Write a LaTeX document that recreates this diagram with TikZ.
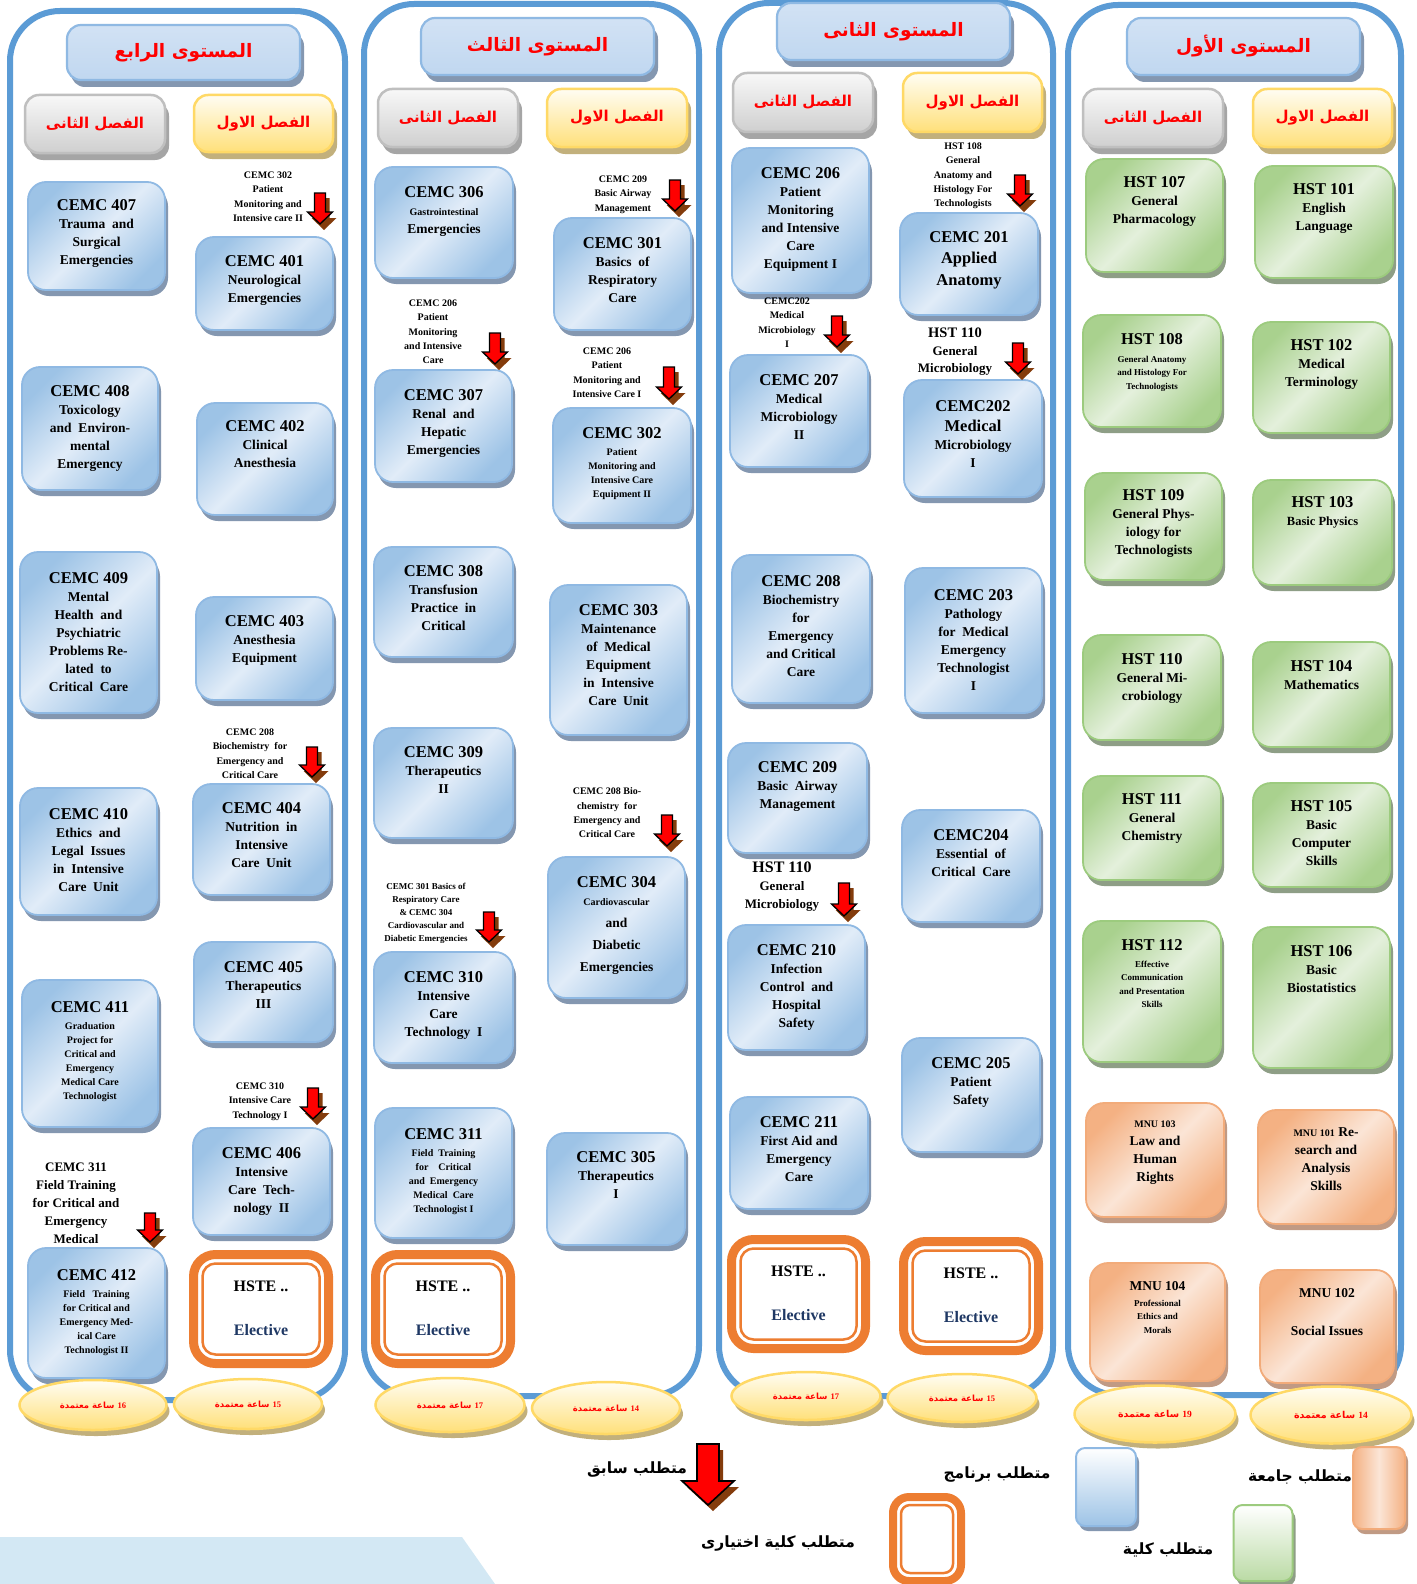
\documentclass[tikz,border=0pt]{standalone}
\usepackage{fontspec}
\setmainfont{Liberation Serif}
\newfontfamily\arabicfont[Script=Arabic]{DejaVu Sans}
\TeXXeTstate=1
\usetikzlibrary{shapes.geometric}

\definecolor{panelblue}{HTML}{5B9BD5}
\definecolor{bdark}{HTML}{9DC3E6}
\definecolor{blight}{HTML}{E1ECF8}
\definecolor{bline}{HTML}{8FB9E3}
\definecolor{bshad}{HTML}{8497B0}
\definecolor{gdark}{HTML}{A9D18E}
\definecolor{glight}{HTML}{E4F0DC}
\definecolor{gline}{HTML}{9CCB7E}
\definecolor{gshad}{HTML}{8E9E86}
\definecolor{pdark}{HTML}{F4B183}
\definecolor{plight}{HTML}{FBE5D6}
\definecolor{pline}{HTML}{F2AB7A}
\definecolor{pshad}{HTML}{C09A84}
\definecolor{orng}{HTML}{ED7D31}
\definecolor{navy}{HTML}{1F3864}
\definecolor{ylw}{HTML}{FFD966}
\definecolor{ylwtop}{HTML}{FFFDF3}
\definecolor{ylwbot}{HTML}{FFE07A}
\definecolor{yshad}{HTML}{C2B07C}
\definecolor{gry}{HTML}{BFBFBF}
\definecolor{grytop}{HTML}{F8F8F8}
\definecolor{grybot}{HTML}{CFCFCF}
\definecolor{gshadb}{HTML}{A5A5A5}
\definecolor{hdtop}{HTML}{D2E2F4}
\definecolor{hdbot}{HTML}{C0D7F0}
\definecolor{hred}{HTML}{FF0000}
\definecolor{abrown}{HTML}{843C0C}
\definecolor{wmark}{HTML}{D3E8F4}

\newcommand\arf{\arabicfont\bfseries}
\newcommand\kd[1]{{\fontsize{16.5}{19}\selectfont #1}}

\tikzset{
  bx/.style={rounded corners=18pt, inner sep=0pt, outer sep=0pt, line width=1.8pt},
  bluebox/.style={bx, draw=bline, left color=bdark, right color=bdark, middle color=blight, shading angle=45},
  blueshadow/.style={bx, fill=bshad, draw=none},
  greenbox/.style={bx, draw=gline, left color=gdark, right color=gdark, middle color=glight, shading angle=45},
  greenshadow/.style={bx, fill=gshad, draw=none},
  peachbox/.style={bx, draw=pline, left color=pdark, right color=pdark, middle color=plight, shading angle=45},
  peachshadow/.style={bx, fill=pshad, draw=none},
  hdrbox/.style={bx, rounded corners=14pt, draw=bline, line width=2.2pt, top color=hdtop, bottom color=hdbot},
  hdrshadow/.style={bx, rounded corners=14pt, fill=bshad},
  ylwbox/.style={bx, rounded corners=14pt, draw=ylw, line width=2.5pt, top color=ylwtop, bottom color=ylwbot},
  ylwshadow/.style={bx, rounded corners=14pt, fill=yshad},
  grybox/.style={bx, rounded corners=14pt, draw=gry, line width=2.5pt, top color=grytop, bottom color=grybot},
  gryshadow/.style={bx, rounded corners=14pt, fill=gshadb},
  panel/.style={draw=panelblue, line width=6pt, rounded corners=50pt, fill=white, inner sep=0pt},
  ctext/.style={inner sep=0pt, outer sep=0pt, align=center, text=black},
  tA/.style={ctext, font=\bfseries\fontsize{13.5}{18}\selectfont},
  tS/.style={ctext, font=\bfseries\fontsize{10}{14}\selectfont},
  tX/.style={ctext, font=\bfseries\fontsize{9}{13.5}\selectfont},
  pre/.style={ctext, anchor=north, font=\bfseries\fontsize{10}{14.3}\selectfont},
  preB/.style={ctext, anchor=north, font=\bfseries\fontsize{13}{18}\selectfont},
  ovbox/.style={ellipse, draw=ylw, line width=2.5pt, top color=ylwtop, bottom color=ylwbot, text=hred, inner sep=0pt},
  ovshadow/.style={ellipse, fill=yshad, inner sep=0pt},
  elecout/.style={rounded corners=22pt, draw=orng, line width=9pt, fill=white, inner sep=0pt},
  elecin/.style={rounded corners=13pt, draw=orng, line width=2.5pt, inner sep=0pt},
  etext/.style={inner sep=0pt, font=\bfseries\fontsize{16}{19}\selectfont},
  arrowred/.style={fill=red, draw=black, line width=1.3pt, line join=miter},
  legtext/.style={inner sep=0pt, font=\fontsize{15.5}{18}\selectfont\arf, text=black},
}

\newcommand\crs[9]{%
  \pgfmathsetmacro\cw{#5-#3}\pgfmathsetmacro\ch{#6-#4}%
  \pgfmathsetmacro\cx{(#3+#5)/2}\pgfmathsetmacro\cy{(#4+#6)/2}%
  \node[#2shadow, minimum width=\cw pt, minimum height=\ch pt] (#1s) at (\cx+3,\cy+6) {};%
  \node[#2box, minimum width=\cw pt, minimum height=\ch pt] (#1) at (\cx,\cy) {};%
  \node[#8, anchor=north] (#1t) at (\cx,#7) {#9};%
}
\newcommand\hdr[8]{%
  \pgfmathsetmacro\cw{#5-#3}\pgfmathsetmacro\ch{#6-#4}%
  \pgfmathsetmacro\cx{(#3+#5)/2}\pgfmathsetmacro\cy{(#4+#6)/2}%
  \node[#2shadow, minimum width=\cw pt, minimum height=\ch pt] (#1s) at (\cx+4,\cy+7) {};%
  \node[#2box, minimum width=\cw pt, minimum height=\ch pt, text=hred, font=\fontsize{#7}{#7}\selectfont\arf] (#1) at (\cx,\cy) {#8};%
}
\newcommand\credit[7]{%
  \node[ovshadow, minimum width=#4pt, minimum height=#5pt] (#1s) at (#2+3,#3+6) {};%
  \node[ovbox, minimum width=#4pt, minimum height=#5pt, font=\fontsize{#6}{#6}\selectfont\arf] (#1) at (#2,#3) {\beginR\beginL{\rmfamily\bfseries #7}\endL\ ساعة معتمدة\endR};%
}
\newcommand\elec[5]{%
  \pgfmathsetmacro\cw{#4-#2-9}\pgfmathsetmacro\ch{#5-#3-9}%
  \pgfmathsetmacro\iw{#4-#2-27}\pgfmathsetmacro\ih{#5-#3-27}%
  \pgfmathsetmacro\cx{(#2+#4)/2}\pgfmathsetmacro\cy{(#3+#5)/2}%
  \pgfmathsetmacro\ya{#3+0.31*(#5-#3)}\pgfmathsetmacro\yb{#3+0.68*(#5-#3)}%
  \node[elecout, minimum width=\cw pt, minimum height=\ch pt] (#1) at (\cx,\cy) {};%
  \node[elecin, minimum width=\iw pt, minimum height=\ih pt] (#1i) at (\cx,\cy) {};%
  \node[etext] (#1a) at (\cx,\ya) {HSTE ..};%
  \node[etext, text=navy] (#1b) at (\cx,\yb) {Elective};%
}
\newcommand\rarr[3]{%
  \pgfmathsetmacro\ax{#1}\pgfmathsetmacro\at{#2}\pgfmathsetmacro\ab{#3-6}\pgfmathsetmacro\ah{#3-18}%
  \fill[abrown] (\ax-1.5,\at+5) -- (\ax+9.5,\at+5) -- (\ax+9.5,\ah+6) -- (\ax+16.5,\ah+6) -- (\ax+4,\ab+6) -- (\ax-8.5,\ah+6) -- (\ax-1.5,\ah+6) -- cycle;%
  \filldraw[arrowred] (\ax-5.5,\at) -- (\ax+5.5,\at) -- (\ax+5.5,\ah) -- (\ax+12.5,\ah) -- (\ax,\ab) -- (\ax-12.5,\ah) -- (\ax-5.5,\ah) -- cycle;%
}

\begin{document}
\begin{tikzpicture}[x=1pt,y=-1pt]
\useasboundingbox (0,0) rectangle (1416,1584);
\fill[white] (0,0) rectangle (1416,1584);
\fill[wmark] (0,1537) -- (462,1537) -- (495,1584) -- (0,1584) -- cycle;

% panels
\node[panel, minimum width=335pt, minimum height=1389pt] (pan4) at (177.5,705.5) {};
\node[panel, minimum width=335pt, minimum height=1392pt] (pan3) at (531.5,700) {};
\node[panel, minimum width=334pt, minimum height=1393pt] (pan2) at (886,699.5) {};
\node[panel, minimum width=333pt, minimum height=1390pt] (pan1) at (1234.5,700) {};

% level headers
\hdr{lv4}{hdr}{67}{25}{300}{80}{18.5}{\beginR المستوى الرابع\endR}
\hdr{lv3}{hdr}{421}{18}{654}{75}{18.5}{\beginR المستوى الثالث\endR}
\hdr{lv2}{hdr}{777}{3}{1010}{60}{18.5}{\beginR المستوى الثانى\endR}
\hdr{lv1}{hdr}{1127}{18}{1360}{75}{18.5}{\beginR المستوى الأول\endR}

% semester headers
\hdr{s4b}{gry}{25}{95}{165}{153}{15}{\beginR الفصل الثانى\endR}
\hdr{s4a}{ylw}{194}{95}{333}{152}{15}{\beginR الفصل الاول\endR}
\hdr{s3b}{gry}{378}{89}{518}{147}{15}{\beginR الفصل الثانى\endR}
\hdr{s3a}{ylw}{547}{89}{687}{147}{15}{\beginR الفصل الاول\endR}
\hdr{s2b}{gry}{733}{73}{873}{132}{15}{\beginR الفصل الثانى\endR}
\hdr{s2a}{ylw}{903}{73}{1042}{132}{15}{\beginR الفصل الاول\endR}
\hdr{s1b}{gry}{1083}{89}{1223}{147}{15}{\beginR الفصل الثانى\endR}
\hdr{s1a}{ylw}{1253}{89}{1392}{147}{15}{\beginR الفصل الاول\endR}

% ---- Level 4
\crs{c407}{blue}{28}{182}{165}{290}{200}{tA}{\kd{CEMC 407}\\Trauma\ \ and\\Surgical\\Emergencies}
\crs{c401}{blue}{196}{237}{333}{330}{256}{tA}{\kd{CEMC 401}\\Neurological\\Emergencies}
\crs{c408}{blue}{22}{367}{158}{490}{386}{tA}{\kd{CEMC 408}\\Toxicology\\and\ \ Environ-\\mental\\Emergency}
\crs{c402}{blue}{197}{403}{333}{515}{421}{tA}{\kd{CEMC 402}\\Clinical\\Anesthesia}
\crs{c409}{blue}{20}{552}{157}{713}{573}{tA}{\kd{CEMC 409}\\Mental\\Health\ \ and\\Psychiatric\\Problems Re-\\lated\ \ to\\Critical\ \ Care}
\crs{c403}{blue}{196}{597}{333}{700}{616}{tA}{\kd{CEMC 403}\\Anesthesia\\Equipment}
\crs{c404}{blue}{193}{784}{330}{895}{803}{tA}{\kd{CEMC 404}\\Nutrition\ \ in\\Intensive\\Care\ \ Unit}
\crs{c410}{blue}{20}{788}{157}{915}{809}{tA}{\kd{CEMC 410}\\Ethics\ \ and\\Legal\ \ Issues\\in\ \ Intensive\\Care\ \ Unit}
\crs{c405}{blue}{194}{942}{333}{1042}{962}{tA}{\kd{CEMC 405}\\Therapeutics\\III}
\crs{c411}{blue}{22}{980}{158}{1127}{1002}{tS}{\kd{CEMC 411}\\[3pt]Graduation\\Project for\\Critical and\\Emergency\\Medical Care\\Technologist}
\crs{c406}{blue}{193}{1128}{330}{1235}{1148}{tA}{\kd{CEMC 406}\\Intensive\\Care\ \ Tech-\\nology\ \ II}
\crs{c412}{blue}{28}{1248}{165}{1378}{1270}{tS}{\kd{CEMC 412}\\[3pt]Field\ \ \ Training\\for Critical and\\Emergency Med-\\ical Care\\Technologist II}
\elec{e4}{189}{1250}{333}{1368}

\node[pre] (p401) at (268,172) {CEMC 302\\Patient\\Monitoring and\\Intensive care II};
\node[pre] (p404) at (250,729) {CEMC 208\\Biochemistry\ \ for\\Emergency and\\Critical Care};
\node[pre] (p406) at (260,1083) {CEMC 310\\Intensive Care\\Technology I};
\node[preB] (p412) at (76,1163) {CEMC 311\\Field Training\\for Critical and\\Emergency\\Medical};
\rarr{320}{193}{230}
\rarr{312}{747}{783}
\rarr{313}{1088}{1125}
\rarr{150}{1213}{1248}

% ---- Level 3
\crs{c306}{blue}{375}{167}{513}{278}{187}{tA}{\kd{CEMC 306}\\{\fontsize{10}{12}\selectfont Gastrointestinal}\\Emergencies}
\crs{c301}{blue}{554}{218}{691}{330}{238}{tA}{\kd{CEMC 301}\\Basics\ \ of\\Respiratory\\Care}
\crs{c307}{blue}{375}{370}{512}{482}{390}{tA}{\kd{CEMC 307}\\Renal\ \ and\\Hepatic\\Emergencies}
\crs{c302}{blue}{553}{408}{691}{523}{428}{tS}{\kd{CEMC 302}\\[3pt]Patient\\Monitoring and\\Intensive Care\\Equipment II}
\crs{c308}{blue}{374}{547}{513}{657}{566}{tA}{\kd{CEMC 308}\\Transfusion\\Practice\ \ in\\Critical}
\crs{c303}{blue}{550}{585}{687}{735}{605}{tA}{\kd{CEMC 303}\\Maintenance\\of\ \ Medical\\Equipment\\in\ \ Intensive\\Care\ \ Unit}
\crs{c309}{blue}{374}{728}{513}{838}{747}{tA}{\kd{CEMC 309}\\Therapeutics\\II}
\crs{c304}{blue}{548}{857}{685}{998}{877}{tA}{\kd{CEMC 304}\\{\fontsize{10}{12}\selectfont Cardiovascular}\\[4pt]and\\[4pt]Diabetic\\[4pt]Emergencies}
\crs{c310}{blue}{374}{952}{513}{1063}{972}{tA}{\kd{CEMC 310}\\Intensive\\Care\\Technology\ \ I}
\crs{c311}{blue}{375}{1108}{512}{1238}{1129}{tS}{\kd{CEMC 311}\\[3pt]Field\ \ Training\\for\quad Critical\\and\ \ Emergency\\Medical\ \ Care\\Technologist I}
\crs{c305}{blue}{547}{1133}{685}{1245}{1152}{tA}{\kd{CEMC 305}\\Therapeutics\\I}
\elec{e3}{371}{1250}{515}{1368}

\node[pre] (p301) at (623,176) {CEMC 209\\Basic Airway\\Management};
\node[pre] (p307) at (433,300) {CEMC 206\\Patient\\Monitoring\\and Intensive\\Care};
\node[pre] (p302) at (607,348) {CEMC 206\\Patient\\Monitoring and\\Intensive Care I};
\node[pre] (p304) at (607,788) {CEMC 208 Bio-\\chemistry\ \ for\\Emergency and\\Critical Care};
\node[pre, font=\bfseries\fontsize{9}{13}\selectfont] (p310) at (426,883) {CEMC 301 Basics of\\Respiratory Care\\\& CEMC 304\\Cardiovascular and\\Diabetic Emergencies};
\rarr{675}{180}{217}
\rarr{495}{333}{370}
\rarr{669}{367}{405}
\rarr{667}{815}{852}
\rarr{489}{912}{948}

% ---- Level 2
\crs{c206}{blue}{732}{148}{869}{293}{168}{tA}{\kd{CEMC 206}\\Patient\\Monitoring\\and Intensive\\Care\\Equipment I}
\crs{c201}{blue}{900}{213}{1038}{315}{232}{tA}{\kd{CEMC 201}\\[3pt]{\fontsize{16.5}{20}\selectfont Applied}\\[4pt]{\fontsize{16.5}{20}\selectfont Anatomy}}
\crs{c207}{blue}{730}{355}{868}{467}{375}{tA}{\kd{CEMC 207}\\Medical\\Microbiology\\II}
\crs{c202}{blue}{904}{380}{1042}{497}{401}{tA}{\kd{CEMC202}\\[2pt]{\fontsize{16.5}{20}\selectfont Medical}\\Microbiology\\I}
\crs{c208}{blue}{732}{555}{870}{703}{576}{tA}{\kd{CEMC 208}\\Biochemistry\\for\\Emergency\\and Critical\\Care}
\crs{c203}{blue}{905}{568}{1042}{713}{590}{tA}{\kd{CEMC 203}\\Pathology\\for\ \ Medical\\Emergency\\Technologist\\I}
\crs{c209}{blue}{728}{743}{867}{853}{762}{tA}{\kd{CEMC 209}\\Basic\ \ Airway\\Management}
\crs{c204}{blue}{902}{810}{1040}{922}{830}{tA}{\kd{CEMC204}\\Essential\ \ of\\Critical\ \ Care}
\crs{c210}{blue}{728}{925}{865}{1050}{945}{tA}{\kd{CEMC 210}\\Infection\\Control\ \ and\\Hospital\\Safety}
\crs{c205}{blue}{902}{1038}{1040}{1152}{1058}{tA}{\kd{CEMC 205}\\Patient\\Safety}
\crs{c211}{blue}{730}{1097}{868}{1209}{1117}{tA}{\kd{CEMC 211}\\First Aid and\\Emergency\\Care}
\elec{e2a}{727}{1235}{870}{1353}
\elec{e2b}{899}{1237}{1043}{1355}

\node[pre] (p201) at (963,143) {HST 108\\General\\Anatomy and\\Histology For\\Technologists};
\node[pre] (p207) at (787,298) {CEMC202\\Medical\\Microbiology\\I};
\node[preB, font=\bfseries\fontsize{13}{17.5}\selectfont] (p202) at (955,328) {{\fontsize{14.5}{17}\selectfont HST 110}\\General\\Microbiology};
\node[preB] (p210) at (782,862) {{\fontsize{16}{19}\selectfont HST 110}\\General\\Microbiology};
\rarr{1020}{175}{212}
\rarr{837}{316}{353}
\rarr{1018}{343}{380}
\rarr{844}{883}{922}

% ---- Level 1
\crs{h107}{green}{1086}{159}{1223}{272}{177}{tA}{\kd{HST 107}\\General\\Pharmacology}
\crs{h101}{green}{1255}{166}{1393}{278}{184}{tA}{\kd{HST 101}\\English\\Language}
\crs{h108}{green}{1083}{315}{1221}{427}{334}{tX}{\kd{HST 108}\\[4pt]General Anatomy\\and Histology For\\Technologists}
\crs{h102}{green}{1253}{322}{1390}{433}{340}{tA}{\kd{HST 102}\\Medical\\Terminology}
\crs{h109}{green}{1085}{473}{1222}{580}{490}{tA}{\kd{HST 109}\\General Phys-\\iology for\\Technologists}
\crs{h103}{green}{1253}{480}{1392}{585}{497}{tA}{\kd{HST 103}\\{\fontsize{12.5}{15}\selectfont Basic Physics}}
\crs{h110}{green}{1083}{635}{1221}{740}{654}{tA}{\kd{HST 110}\\General Mi-\\crobiology}
\crs{h104}{green}{1253}{642}{1390}{747}{661}{tA}{\kd{HST 104}\\Mathematics}
\crs{h111}{green}{1083}{776}{1221}{880}{794}{tA}{\kd{HST 111}\\General\\Chemistry}
\crs{h105}{green}{1253}{783}{1390}{887}{801}{tA}{\kd{HST 105}\\Basic\\Computer\\Skills}
\crs{h112}{green}{1083}{921}{1221}{1062}{940}{tX}{\kd{HST 112}\\[3pt]Effective\\Communication\\and Presentation\\Skills}
\crs{h106}{green}{1253}{927}{1390}{1068}{946}{tA}{\kd{HST 106}\\Basic\\Biostatistics}
\crs{m103}{peach}{1086}{1103}{1224}{1217}{1121}{tA}{{\fontsize{10}{12}\selectfont MNU 103}\\Law and\\Human\\Rights}
\crs{m101}{peach}{1258}{1110}{1394}{1224}{1128}{tA}{{\fontsize{10}{12}\selectfont MNU 101} Re-\\search and\\Analysis\\Skills}
\crs{m104}{peach}{1090}{1263}{1225}{1381}{1282}{tX}{{\fontsize{13.5}{16}\selectfont MNU 104}\\[2pt]Professional\\Ethics and\\Morals}
\crs{m102}{peach}{1260}{1270}{1394}{1383}{1289}{tA}{MNU 102\\[20pt]Social Issues}

% ---- credit ovals
\credit{o4a}{93}{1405}{147}{50}{8.5}{16}
\credit{o4b}{248}{1404}{148}{50}{8.5}{15}
\credit{o3a}{450}{1405}{149}{54}{8.5}{17}
\credit{o3b}{606}{1408}{148}{52}{8.5}{14}
\credit{o2a}{806}{1396}{149}{48}{8.5}{17}
\credit{o2b}{962}{1398}{149}{48}{8.5}{15}
\credit{o1a}{1155}{1414}{161}{57}{9.5}{19}
\credit{o1b}{1331}{1415}{161}{57}{9.5}{14}

% ---- legend
\fill[abrown] (701,1450) -- (723,1450) -- (723,1487) -- (739,1487) -- (713,1511) -- (687,1487) -- (701,1487) -- cycle;
\filldraw[arrowred, line width=1.6pt] (697,1444) -- (719,1444) -- (719,1481) -- (734,1481) -- (708,1505) -- (682,1481) -- (697,1481) -- cycle;
\node[legtext] (lt1) at (637,1470) {\beginR متطلب سابق\endR};
\node[legtext] (lt2) at (997,1474) {\beginR متطلب برنامج\endR};
\node[legtext] (lt3) at (778,1543) {\beginR متطلب كلية اختيارى\endR};
\node[legtext] (lt4) at (1300,1477) {\beginR متطلب جامعة\endR};
\node[legtext] (lt5) at (1168,1550) {\beginR متطلب كلية\endR};

\node[bx, rounded corners=9pt, fill=bshad, minimum width=60pt, minimum height=78pt] (lgBs) at (1109,1492) {};
\node[bx, rounded corners=9pt, draw=bline, line width=2pt, top color=white, bottom color=bdark, minimum width=60pt, minimum height=78pt] (lgB) at (1106,1487) {};
\node[bx, rounded corners=9pt, fill=pshad, minimum width=52pt, minimum height=82pt] (lgPs) at (1382,1493) {};
\node[bx, rounded corners=9pt, draw=pline, line width=2pt, left color=pdark, right color=pdark, middle color=plight, minimum width=52pt, minimum height=82pt] (lgP) at (1379,1488) {};
\node[bx, rounded corners=9pt, fill=gshad, minimum width=59pt, minimum height=76pt] (lgGs) at (1266,1548) {};
\node[bx, rounded corners=9pt, draw=gline, line width=2pt, top color=white, bottom color=gdark!80, minimum width=59pt, minimum height=76pt] (lgG) at (1263,1543) {};
\node[elecout, rounded corners=16pt, line width=8pt, minimum width=68pt, minimum height=84pt] (lgO) at (927,1539) {};
\node[elecin, rounded corners=9pt, minimum width=52pt, minimum height=68pt] (lgOi) at (927,1539) {};
\end{tikzpicture}
\end{document}
